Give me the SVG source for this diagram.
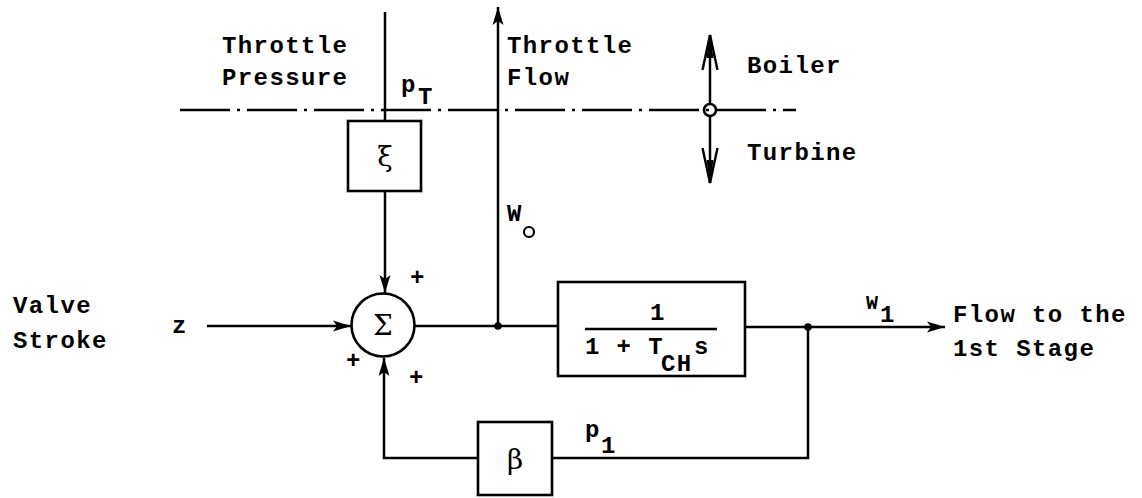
<svg xmlns="http://www.w3.org/2000/svg" width="1142" height="498" viewBox="0 0 1142 498">
<defs>
<marker id="ah" markerUnits="userSpaceOnUse" markerWidth="20" markerHeight="14" refX="18" refY="7" orient="auto">
<path d="M0,1.5 L18,7 L0,12.5 L4,7 z" fill="#000"/>
</marker>
<marker id="av" markerUnits="userSpaceOnUse" markerWidth="36" markerHeight="18" refX="35" refY="9" orient="auto">
<path d="M0,1.5 L35,9 L0,16.5" fill="none" stroke="#000" stroke-width="2.4"/>
<path d="M12,5.5 L35,9 L12,12.5 z" fill="#000"/>
</marker>
<style>
text{font-family:"Liberation Mono","Courier New",monospace;font-weight:bold;font-size:24px;fill:#000;letter-spacing:1.4px}
.ln{fill:none;stroke:#000;stroke-width:2.5}
.bx{fill:#fff;stroke:#000;stroke-width:2.6}
.gr{font-family:"DejaVu Serif","Liberation Serif",serif;font-weight:normal;letter-spacing:0;font-size:28px}
.sm{font-size:20px}
</style>
</defs>
<rect width="1142" height="498" fill="#fff"/>
<g id="connectors">
<line class="ln" x1="180" y1="110" x2="796" y2="110" stroke-dasharray="50 7 3 7"/>
<line class="ln" x1="385" y1="12" x2="385" y2="121"/>
<line class="ln" x1="385" y1="191" x2="385" y2="293" marker-end="url(#ah)"/>
<line class="ln" x1="207" y1="326" x2="351" y2="326" marker-end="url(#ah)"/>
<line class="ln" x1="414" y1="326" x2="558" y2="326"/>
<line class="ln" x1="498" y1="326" x2="498" y2="7" marker-end="url(#ah)"/>
<line class="ln" x1="745" y1="327" x2="945" y2="327" marker-end="url(#ah)"/>
<polyline class="ln" points="808,327 808,458 552,458"/>
<polyline class="ln" points="478,458 384,458 384,358" marker-end="url(#ah)"/>
<circle cx="498" cy="326" r="3.8" fill="#000"/>
<circle cx="808" cy="327" r="3.8" fill="#000"/>
<line class="ln" x1="710" y1="104" x2="710" y2="35" marker-end="url(#av)"/>
<line class="ln" x1="710" y1="116" x2="710" y2="183" marker-end="url(#av)"/>
<circle cx="710" cy="110" r="6" fill="none" stroke="#000" stroke-width="2.6"/>
</g>
<g id="xi">
<rect class="bx" x="348" y="121" width="73" height="70"/>
<text class="gr" x="385" y="166" text-anchor="middle">ξ</text>
</g>
<g id="sum">
<circle cx="383" cy="325" r="31.5" fill="#fff" stroke="#000" stroke-width="2.6"/>
<text class="gr" x="383" y="335" text-anchor="middle">Σ</text>
<text x="418" y="285" text-anchor="middle">+</text>
<text x="354" y="368" text-anchor="middle">+</text>
<text x="417" y="385" text-anchor="middle">+</text>
</g>
<g id="tf">
<rect class="bx" x="558" y="282" width="187" height="94"/>
<text x="658" y="320" text-anchor="middle">1</text>
<line x1="585" y1="329" x2="717" y2="329" stroke="#000" stroke-width="2.6"/>
<text x="585" y="354">1 + T</text>
<text x="661" y="371">CH</text>
<text x="694" y="354">s</text>
</g>
<g id="beta">
<rect class="bx" x="478" y="422" width="74" height="73"/>
<text class="gr" x="515" y="469" text-anchor="middle">β</text>
</g>
<g id="labels">
<text x="222" y="53">Throttle</text>
<text x="222" y="85">Pressure</text>
<text x="401" y="92">p</text>
<text x="418" y="104">T</text>
<text x="507" y="53">Throttle</text>
<text x="507" y="85">Flow</text>
<text x="747" y="73">Boiler</text>
<text x="747" y="160">Turbine</text>
<text x="507" y="221">W</text>
<circle cx="529" cy="232" r="5" fill="none" stroke="#000" stroke-width="2.2"/>
<text x="13" y="313">Valve</text>
<text x="13" y="348">Stroke</text>
<text x="172" y="333">z</text>
<text x="585" y="437">p</text>
<text x="601" y="453">1</text>
<text class="sm" x="866" y="309">W</text>
<text x="880" y="322">1</text>
<text x="953" y="322">Flow to the</text>
<text x="953" y="356">1st Stage</text>
</g>
</svg>
